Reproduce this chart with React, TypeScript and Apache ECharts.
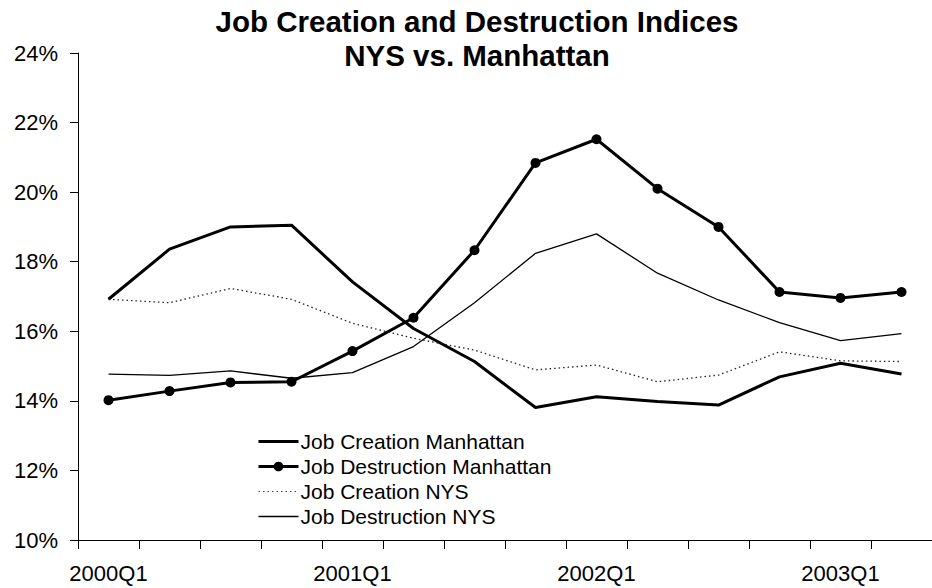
import React, { useEffect, useRef } from "react";
import * as echarts from "echarts";

const categories = [
  "2000Q1", "2000Q2", "2000Q3", "2000Q4",
  "2001Q1", "2001Q2", "2001Q3", "2001Q4",
  "2002Q1", "2002Q2", "2002Q3", "2002Q4",
  "2003Q1", "2003Q2",
];

const jobCreationManhattan = [16.92, 18.36, 19.0, 19.05, 17.42, 16.08, 15.13, 13.81, 14.12, 13.98, 13.88, 14.69, 15.08, 14.77];
const jobDestructionManhattan = [14.02, 14.28, 14.53, 14.55, 15.43, 16.39, 18.33, 20.84, 21.52, 20.1, 19.0, 17.13, 16.96, 17.13];
const jobCreationNYS = [16.92, 16.82, 17.23, 16.92, 16.23, 15.8, 15.46, 14.89, 15.03, 14.55, 14.74, 15.41, 15.15, 15.13];
const jobDestructionNYS = [14.77, 14.73, 14.86, 14.65, 14.81, 15.56, 16.82, 18.24, 18.8, 17.67, 16.9, 16.25, 15.73, 15.93];

const FONT = "'Liberation Sans', Arial, sans-serif";

export default function App() {
  const ref = useRef<HTMLDivElement>(null);

  useEffect(() => {
    if (!ref.current) return;
    const chart = echarts.init(ref.current, null, { renderer: "svg" });
    chart.setOption({
      animation: false,
      backgroundColor: "#ffffff",
      textStyle: { fontFamily: FONT, color: "#000" },
      title: {
        text: "Job Creation and Destruction Indices\nNYS vs. Manhattan",
        left: 472,
        top: -1,
        textAlign: "center",
        textStyle: {
          fontFamily: FONT,
          fontSize: 29.5,
          fontWeight: "bold",
          lineHeight: 34,
          color: "#000",
        },
      },
      legend: {
        orient: "vertical",
        left: 252,
        top: 426,
        itemWidth: 40,
        itemHeight: 12,
        itemGap: 4,
        textStyle: { fontFamily: FONT, fontSize: 21, color: "#000", lineHeight: 21, padding: [0, 0, 0, -3] },
        data: [
          { name: "Job Creation Manhattan", itemStyle: { opacity: 0 }, lineStyle: { width: 3, color: "#000" } },
          { name: "Job Destruction Manhattan", lineStyle: { width: 3, color: "#000" } },
          { name: "Job Creation NYS", itemStyle: { opacity: 0 }, lineStyle: { width: 1.2, color: "#444", type: [1.5, 3] } },
          { name: "Job Destruction NYS", itemStyle: { opacity: 0 }, lineStyle: { width: 1.3, color: "#000" } },
        ],
      },
      grid: { left: 78, top: 53, width: 861, height: 487, containLabel: false },
      xAxis: {
        type: "category",
        data: categories,
        boundaryGap: true,
        axisLine: { lineStyle: { color: "#000", width: 1 } },
        axisTick: { show: true, interval: 0, length: 9, lineStyle: { color: "#000" } },
        axisLabel: { interval: 3, margin: 22, fontFamily: FONT, fontSize: 22, color: "#000" },
        splitLine: { show: false },
      },
      yAxis: {
        type: "value",
        min: 10,
        max: 24,
        interval: 2,
        axisLine: { show: true, lineStyle: { color: "#000", width: 1 } },
        axisTick: { show: true, length: 8, lineStyle: { color: "#000" } },
        axisLabel: { formatter: "{value}%", margin: 20, fontFamily: FONT, fontSize: 22, color: "#000" },
        splitLine: { show: false },
      },
      series: [
        {
          name: "Job Creation Manhattan",
          type: "line",
          data: jobCreationManhattan,
          symbol: "none",
          lineStyle: { color: "#000", width: 3 },
          itemStyle: { color: "#000" },
        },
        {
          name: "Job Destruction Manhattan",
          type: "line",
          data: jobDestructionManhattan,
          symbol: "circle",
          symbolSize: 10,
          lineStyle: { color: "#000", width: 3 },
          itemStyle: { color: "#000" },
        },
        {
          name: "Job Creation NYS",
          type: "line",
          data: jobCreationNYS,
          symbol: "none",
          lineStyle: { color: "#222", width: 1.3, type: [1.5, 3] },
          itemStyle: { color: "#222" },
        },
        {
          name: "Job Destruction NYS",
          type: "line",
          data: jobDestructionNYS,
          symbol: "none",
          lineStyle: { color: "#000", width: 1.3 },
          itemStyle: { color: "#000" },
        },
      ],
    });
    return () => chart.dispose();
  }, []);

  return (
    <div
      ref={ref}
      style={{ position: "fixed", left: 0, top: 0, width: 932, height: 588, background: "#fff" }}
    />
  );
}
